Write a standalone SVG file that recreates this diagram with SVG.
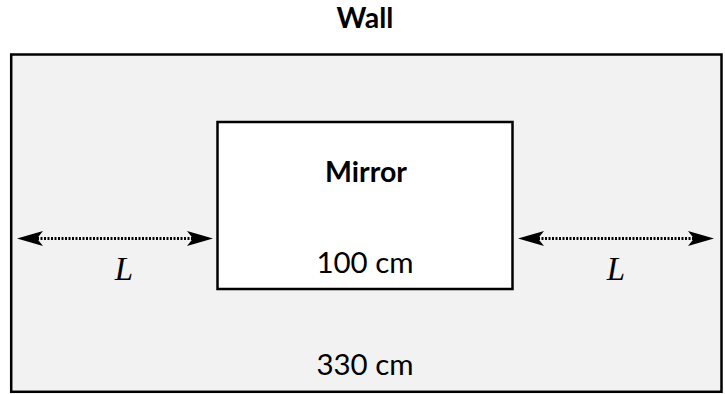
<svg xmlns="http://www.w3.org/2000/svg" width="725" height="394" viewBox="0 0 725 394">
  <style>
    .box { stroke: #000; stroke-width: 2.5; }
    .lbl { font-family: Lato, "Open Sans", "Liberation Sans", sans-serif; fill: #000; text-anchor: middle; }
    .b { font-weight: bold; font-size: 28.5px; }
    .r { font-size: 29.5px; }
    .var { font-family: "Liberation Serif", "DejaVu Serif", serif; font-style: italic; font-size: 33px; fill: #000; text-anchor: middle; }
    .dim { stroke: #000; stroke-width: 3; stroke-dasharray: 2 1.5; fill: none; marker-start: url(#head); marker-end: url(#head); }
  </style>
  <defs>
    <marker id="head" markerUnits="userSpaceOnUse" viewBox="0 -7.5 26 15" refX="6" refY="0" markerWidth="26" markerHeight="15" orient="auto-start-reverse">
      <path d="M0,-7.5 L26,0 L0,7.5 L6,0 Z" fill="#000"/>
    </marker>
  </defs>
  <text class="lbl b" x="365" y="28">Wall</text>
  <g id="wall">
    <rect class="box" x="11.2" y="54.5" width="710.3" height="337.3" fill="#f2f2f2"/>
    <text class="lbl r" x="365" y="375">330 cm</text>
  </g>
  <g id="mirror">
    <rect class="box" x="217.5" y="122" width="295" height="167" fill="#ffffff"/>
    <text class="lbl b" x="366" y="182">Mirror</text>
    <text class="lbl r" x="365" y="273">100 cm</text>
  </g>
  <g id="connectors">
    <line class="dim" x1="37" y1="238.5" x2="193" y2="238.5"/>
    <line class="dim" x1="538" y1="238.5" x2="694" y2="238.5"/>
  </g>
  <text class="var" x="124" y="280">L</text>
  <text class="var" x="616" y="280">L</text>
</svg>
